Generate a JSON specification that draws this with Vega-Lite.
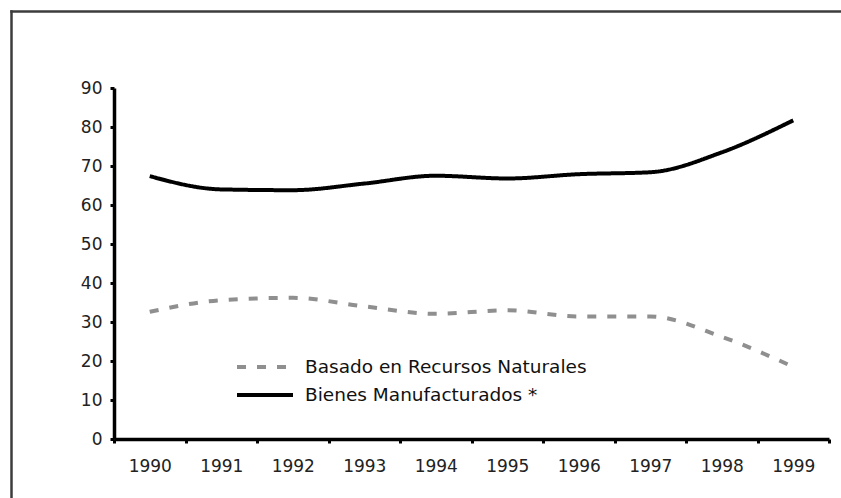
{
  "$schema": "https://vega.github.io/schema/vega-lite/v6.json",
  "width": 830,
  "height": 487,
  "autosize": {"type": "none"},
  "padding": {"left": 11, "top": 11, "right": 0, "bottom": 0},
  "background": "white",
  "config": {
    "view": {"stroke": null},
    "font": "DejaVu Sans"
  },
  "resolve": {"scale": {"x": "independent", "y": "independent", "color": "shared", "strokeDash": "shared"}, "axis": {"x": "independent", "y": "independent"}},
  "layer": [
    {
      "data": {
        "values": [
          {"year": "1990", "series": "Basado en Recursos Naturales", "value": 32.6},
          {"year": "1991", "series": "Basado en Recursos Naturales", "value": 35.6},
          {"year": "1992", "series": "Basado en Recursos Naturales", "value": 36.2},
          {"year": "1993", "series": "Basado en Recursos Naturales", "value": 34.0},
          {"year": "1994", "series": "Basado en Recursos Naturales", "value": 32.1},
          {"year": "1995", "series": "Basado en Recursos Naturales", "value": 33.0},
          {"year": "1996", "series": "Basado en Recursos Naturales", "value": 31.4},
          {"year": "1997", "series": "Basado en Recursos Naturales", "value": 31.4},
          {"year": "1998", "series": "Basado en Recursos Naturales", "value": 26.2},
          {"year": "1999", "series": "Basado en Recursos Naturales", "value": 18.5},
          {"year": "1990", "series": "Bienes Manufacturados *", "value": 67.4},
          {"year": "1991", "series": "Bienes Manufacturados *", "value": 64.0},
          {"year": "1992", "series": "Bienes Manufacturados *", "value": 63.8},
          {"year": "1993", "series": "Bienes Manufacturados *", "value": 65.5},
          {"year": "1994", "series": "Bienes Manufacturados *", "value": 67.5},
          {"year": "1995", "series": "Bienes Manufacturados *", "value": 66.8},
          {"year": "1996", "series": "Bienes Manufacturados *", "value": 67.9},
          {"year": "1997", "series": "Bienes Manufacturados *", "value": 68.4},
          {"year": "1998", "series": "Bienes Manufacturados *", "value": 73.5},
          {"year": "1999", "series": "Bienes Manufacturados *", "value": 81.7}
        ]
      },
      "mark": {"type": "line", "interpolate": "monotone", "strokeWidth": 4},
      "encoding": {
        "x": {
          "field": "year",
          "type": "ordinal",
          "bandPosition": 0.5,
          "scale": {"type": "band", "range": [103, 818], "paddingInner": 0, "paddingOuter": 0},
          "axis": {
            "title": null,
            "orient": "bottom",
            "offset": -59,
            "grid": false,
            "domainColor": "#000000",
            "domainWidth": 3.5,
            "tickBand": "extent",
            "tickSize": 4,
            "tickWidth": 3,
            "tickColor": "#000000",
            "labelAngle": 0,
            "labelFontSize": 17,
            "labelColor": "#222222",
            "labelPadding": 15
          }
        },
        "y": {
          "field": "value",
          "type": "quantitative",
          "scale": {"domain": [0, 90], "range": [428, 77], "nice": false},
          "axis": {
            "title": null,
            "orient": "left",
            "offset": -103,
            "grid": false,
            "values": [0, 10, 20, 30, 40, 50, 60, 70, 80, 90],
            "domainColor": "#000000",
            "domainWidth": 3.5,
            "tickSize": 4,
            "tickWidth": 3,
            "tickColor": "#000000",
            "labelFontSize": 17,
            "labelColor": "#222222",
            "labelPadding": 8
          }
        },
        "color": {
          "field": "series",
          "type": "nominal",
          "scale": {
            "domain": ["Basado en Recursos Naturales", "Bienes Manufacturados *"],
            "range": ["#8f8f8f", "#000000"]
          },
          "legend": {
            "title": null,
            "orient": "none",
            "legendX": 224,
            "legendY": 342,
            "padding": 0,
            "symbolType": "stroke",
            "symbolSize": 3136,
            "symbolStrokeWidth": 4,
            "clipHeight": 28,
            "rowPadding": 0,
            "labelOffset": 10,
            "labelFontSize": 18.5,
            "labelColor": "#111111",
            "labelLimit": 400
          }
        },
        "strokeDash": {
          "field": "series",
          "type": "nominal",
          "scale": {
            "domain": ["Basado en Recursos Naturales", "Bienes Manufacturados *"],
            "range": [[9, 11], [1, 0]]
          },
          "legend": {
            "title": null,
            "orient": "none",
            "legendX": 224,
            "legendY": 342,
            "padding": 0,
            "symbolType": "stroke",
            "symbolSize": 3136,
            "symbolStrokeWidth": 4,
            "clipHeight": 28,
            "rowPadding": 0,
            "labelOffset": 10,
            "labelFontSize": 18.5,
            "labelColor": "#111111",
            "labelLimit": 400
          }
        }
      }
    },
    {
      "data": {"values": [{"fx": 0, "fy": 0}]},
      "mark": {"type": "point", "opacity": 0},
      "encoding": {
        "x": {
          "field": "fx",
          "type": "quantitative",
          "scale": {"domain": [0, 1], "nice": false},
          "axis": {"orient": "top", "offset": 0, "title": null, "labels": false, "ticks": false, "grid": false, "domainColor": "#3c3c3c", "domainWidth": 2.5, "domainCap": "square"}
        },
        "y": {
          "field": "fy",
          "type": "quantitative",
          "scale": {"domain": [0, 1], "nice": false},
          "axis": {"orient": "left", "offset": 0, "title": null, "labels": false, "ticks": false, "grid": false, "domainColor": "#3c3c3c", "domainWidth": 2.5, "domainCap": "square"}
        }
      }
    }
  ]
}
